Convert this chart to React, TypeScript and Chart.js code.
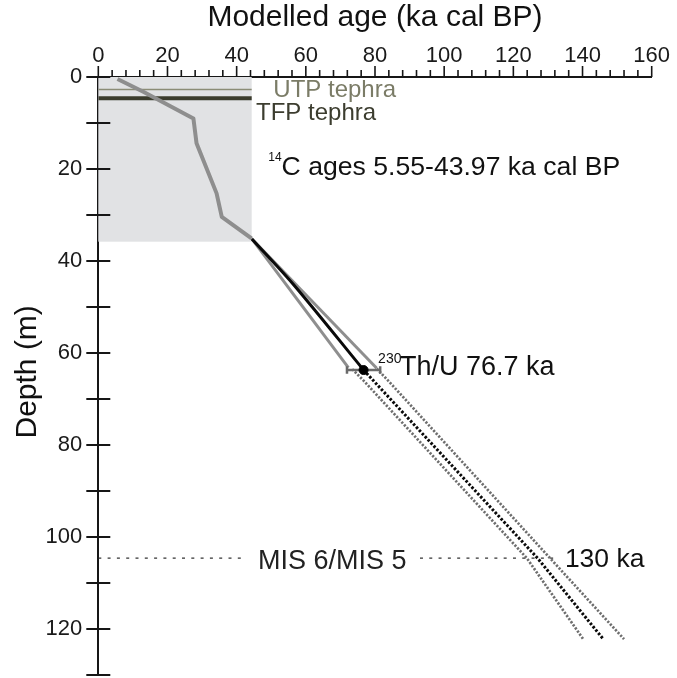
import React, { useEffect, useRef } from 'react';
import { Chart, registerables } from 'chart.js';

Chart.register(...registerables);

// ---- axis ranges / ticks ----
const ageMin = 0;
const ageMax = 160;
const ageLabelStep = 20;
const ageMinorStep = 4;
const depthMin = 0;
const depthMax = 130;
const depthTickStep = 10;
const depthLabelStep = 20;

// ---- 14C-based age model (solid grey) ----
const c14Ages = [5.55, 13.0, 27.5, 28.4, 34.2, 35.7, 44.3];
const c14Depths = [0.45, 3.2, 9.0, 14.4, 25.3, 30.4, 35.1];

// ---- model between 14C and Th/U (solid) ----
const envLeftAges = [44.3, 72.3];
const envLeftDepths = [35.1, 63.2];
const envRightAges = [44.3, 80.5];
const envRightDepths = [35.1, 63.3];
const meanAges = [44.4, 56.3, 76.7];
const meanDepths = [35.2, 45.0, 63.7];

// ---- extrapolated model (dotted) ----
const extLeftAges = [73.4, 76.7, 123.9, 140.2];
const extLeftDepths = [63.5, 66.0, 104.6, 122.2];
const extMeanAges = [76.7, 127.0, 146.0];
const extMeanDepths = [63.7, 104.6, 122.2];
const extRightAges = [80.5, 83.8, 130.6, 152.0];
const extRightDepths = [63.4, 66.0, 104.6, 122.2];

// ---- Th/U date ----
const thuAge = 76.7;
const thuDepth = 63.7;
const thuError = 4.8;

// ---- tephras and 14C zone ----
const utpDepth = 2.7;
const tfpDepth = 4.6;
const c14ZoneAgeMax = 44.35;
const c14ZoneDepthMax = 35.8;

// ---- MIS 6/5 boundary ----
const misDepth = 104.6;
const misSegment1 = [0, 42.4];
const misSegment2 = [93, 132];

const FONT = "'Liberation Sans', Arial, Helvetica, sans-serif";

type Note = { text: string; age: number; depth: number; size: number; color: string };
const notes: Note[] = [
  { text: 'UTP tephra', age: 50.6, depth: 4.25, size: 24, color: '#7b7c67' },
  { text: 'TFP tephra', age: 45.6, depth: 9.35, size: 24, color: '#3c3d2f' },
  { text: '14', age: 49.15, depth: 18.2, size: 12, color: '#111' },
  { text: 'C ages 5.55-43.97 ka cal BP', age: 53.0, depth: 21.3, size: 26.6, color: '#111' },
  { text: '230', age: 80.9, depth: 62.1, size: 14, color: '#111' },
  { text: 'Th/U 76.7 ka', age: 87.2, depth: 64.8, size: 27, color: '#111' },
  { text: 'MIS 6/MIS 5', age: 46.2, depth: 107.0, size: 27, color: '#222' },
  { text: '130 ka', age: 134.9, depth: 106.5, size: 26.5, color: '#111' },
];

const pts = (xs: number[], ys: number[]) => xs.map((x, i) => ({ x, y: ys[i] }));

const zonePlugin = {
  id: 'zone',
  beforeDatasetsDraw(chart: any) {
    const { ctx, scales } = chart;
    const x = scales.x;
    const y = scales.y;
    const x0 = x.getPixelForValue(0);
    const x1 = x.getPixelForValue(c14ZoneAgeMax);
    const y0 = y.getPixelForValue(0);
    const y1 = y.getPixelForValue(c14ZoneDepthMax);
    ctx.save();
    ctx.fillStyle = '#e1e2e4';
    ctx.fillRect(x0, y0, x1 - x0, y1 - y0);
    ctx.restore();
  },
  afterDraw(chart: any) {
    const { ctx, scales } = chart;
    const x = scales.x;
    const y = scales.y;
    ctx.save();
    ctx.strokeStyle = '#161616';
    ctx.lineWidth = 2;
    ctx.lineCap = 'butt';
    // depth ticks crossing the axis
    for (let v = depthMin; v <= depthMax; v += depthTickStep) {
      const py = y.getPixelForValue(v);
      ctx.beginPath();
      ctx.moveTo(x.left - 12, py);
      ctx.lineTo(x.left + 12, py);
      ctx.stroke();
    }
    // age ticks above the axis
    ctx.lineWidth = 1.6;
    for (let v = ageMin; v <= ageMax; v += ageMinorStep) {
      const px = x.getPixelForValue(v);
      const len = v % ageLabelStep === 0 ? 11 : 7;
      ctx.beginPath();
      ctx.moveTo(px, y.top);
      ctx.lineTo(px, y.top - len);
      ctx.stroke();
    }
    // text notes
    ctx.textAlign = 'left';
    ctx.textBaseline = 'alphabetic';
    for (const n of notes) {
      ctx.font = `${n.size}px ${FONT}`;
      ctx.fillStyle = n.color;
      ctx.fillText(n.text, x.getPixelForValue(n.age), y.getPixelForValue(n.depth));
    }
    ctx.restore();
  },
};

export default function App() {
  const ref = useRef<HTMLCanvasElement | null>(null);

  useEffect(() => {
    if (!ref.current) return;
    Chart.defaults.font.family = FONT;
    const grey = '#8e8e8e';
    const chart = new Chart(ref.current, {
      type: 'scatter',
      data: {
        datasets: [
          {
            label: 'Th/U',
            data: [{ x: thuAge, y: thuDepth }],
            pointRadius: 4.5,
            pointBackgroundColor: '#000',
            pointBorderColor: '#000',
            showLine: false,
          },
          {
            label: 'Th/U error',
            data: [
              { x: thuAge - thuError, y: thuDepth },
              { x: thuAge + thuError, y: thuDepth },
            ],
            showLine: true,
            borderColor: '#6a6a6a',
            borderWidth: 2.5,
            pointStyle: 'line',
            rotation: 90,
            pointRadius: 3.8,
            pointBorderColor: '#6a6a6a',
            pointBorderWidth: 2.5,
          },
          {
            label: 'mean',
            data: pts(meanAges, meanDepths),
            showLine: true,
            borderColor: '#0a0a0a',
            borderWidth: 3,
            pointRadius: 0,
            tension: 0.3,
          },
          {
            label: 'ext mean',
            data: pts(extMeanAges, extMeanDepths),
            showLine: true,
            borderColor: '#0a0a0a',
            borderWidth: 3,
            borderDash: [2.5, 1.8],
            pointRadius: 0,
          },
          {
            label: 'ext left',
            data: pts(extLeftAges, extLeftDepths),
            showLine: true,
            borderColor: '#6e6e6e',
            borderWidth: 2.7,
            borderDash: [2.2, 1.6],
            pointRadius: 0,
          },
          {
            label: 'ext right',
            data: pts(extRightAges, extRightDepths),
            showLine: true,
            borderColor: '#6e6e6e',
            borderWidth: 2.7,
            borderDash: [2.2, 1.6],
            pointRadius: 0,
          },
          {
            label: 'env left',
            data: pts(envLeftAges, envLeftDepths),
            showLine: true,
            borderColor: grey,
            borderWidth: 3,
            pointRadius: 0,
          },
          {
            label: 'env right',
            data: pts(envRightAges, envRightDepths),
            showLine: true,
            borderColor: grey,
            borderWidth: 3,
            pointRadius: 0,
          },
          {
            label: '14C model',
            data: pts(c14Ages, c14Depths),
            showLine: true,
            borderColor: grey,
            borderWidth: 4,
            pointRadius: 0,
            borderJoinStyle: 'round',
          },
          {
            label: 'UTP',
            data: [
              { x: 0, y: utpDepth },
              { x: c14ZoneAgeMax, y: utpDepth },
            ],
            showLine: true,
            borderColor: '#8b8c76',
            borderWidth: 1.5,
            pointRadius: 0,
          },
          {
            label: 'TFP',
            data: [
              { x: 0, y: tfpDepth },
              { x: c14ZoneAgeMax, y: tfpDepth },
            ],
            showLine: true,
            borderColor: '#3b3c2d',
            borderWidth: 4,
            pointRadius: 0,
          },
          {
            label: 'MIS a',
            data: [
              { x: misSegment1[0], y: misDepth },
              { x: misSegment1[1], y: misDepth },
            ],
            showLine: true,
            borderColor: '#333',
            borderWidth: 1.2,
            borderDash: [3, 6.3],
            pointRadius: 0,
          },
          {
            label: 'MIS b',
            data: [
              { x: misSegment2[0], y: misDepth },
              { x: misSegment2[1], y: misDepth },
            ],
            showLine: true,
            borderColor: '#333',
            borderWidth: 1.2,
            borderDash: [3, 6.3],
            pointRadius: 0,
          },
        ],
      },
      options: {
        responsive: false,
        maintainAspectRatio: false,
        animation: false,
        devicePixelRatio: 1,
        layout: { autoPadding: false, padding: { left: 0, top: 0, right: 25.3, bottom: 3 } },
        plugins: {
          legend: { display: false },
          tooltip: { enabled: false },
        },
        scales: {
          x: {
            type: 'linear',
            position: 'top',
            min: ageMin,
            max: ageMax,
            afterFit: (s: any) => {
              s.height = 77;
              s.paddingLeft = 0;
              s.paddingRight = 0;
              s.paddingTop = 0;
              s.paddingBottom = 0;
            },
            grid: { display: false, drawTicks: false },
            border: { display: true, color: '#161616', width: 2 },
            ticks: {
              stepSize: ageLabelStep,
              padding: 8,
              color: '#1a1a1a',
              font: { size: 22, family: FONT },
              maxRotation: 0,
            },
            title: {
              display: true,
              text: 'Modelled age (ka cal BP)',
              color: '#111',
              font: { size: 30, family: FONT },
              padding: { top: 0, bottom: 0 },
            },
          },
          y: {
            type: 'linear',
            position: 'left',
            reverse: true,
            min: depthMin,
            max: depthMax,
            afterFit: (s: any) => {
              s.width = 98.3;
              s.paddingLeft = 0;
              s.paddingRight = 0;
              s.paddingTop = 0;
              s.paddingBottom = 0;
            },
            grid: { display: false, drawTicks: false },
            border: { display: true, color: '#161616', width: 2 },
            ticks: {
              stepSize: depthTickStep,
              padding: 16,
              color: '#1a1a1a',
              font: { size: 22, family: FONT },
              callback: (v: any) => (Number(v) % depthLabelStep === 0 ? String(v) : ''),
            },
            title: {
              display: true,
              text: ' Depth (m)',
              color: '#111',
              font: { size: 30, family: FONT },
              padding: { top: 9.5, bottom: 0 },
            },
          },
        },
      },
      plugins: [zonePlugin],
    } as any);
    return () => chart.destroy();
  }, []);

  return (
    <div style={{ position: 'fixed', left: 0, top: 0, width: 677, height: 678, background: '#fff' }}>
      <canvas ref={ref} width={677} height={678} style={{ width: 677, height: 678, display: 'block' }} />
    </div>
  );
}
